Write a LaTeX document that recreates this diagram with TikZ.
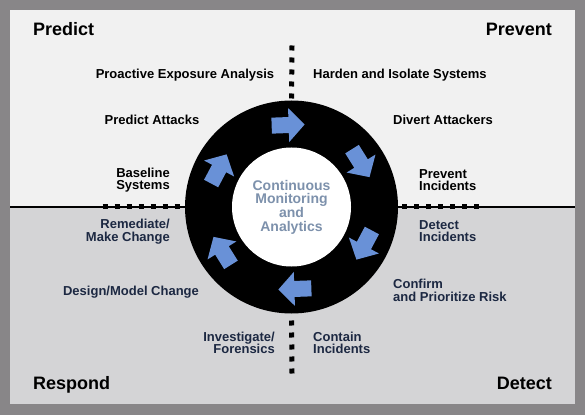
\documentclass[tikz,border=0pt]{standalone}
\usepackage{fontspec}
\setmainfont{Liberation Sans}
\usepackage{xcolor}
\usetikzlibrary{positioning}

\definecolor{framegray}{RGB}{136,134,136}
\definecolor{topfill}{RGB}{241,241,241}
\definecolor{lowfill}{RGB}{212,212,214}
\definecolor{navy}{RGB}{28,40,66}
\definecolor{arrowblue}{RGB}{105,145,215}
\definecolor{hubtext}{RGB}{125,145,172}

\begin{document}
\begin{tikzpicture}[
  x=1pt, y=1pt,
  corner/.style={font=\fontsize{18}{20}\selectfont\bfseries, inner sep=0pt},
  lbl/.style={font=\fontsize{13}{12.6}\selectfont\bfseries, inner sep=0pt},
  low/.style={text=navy},
  dotline/.style={line width=5pt, dash pattern=on 5pt off 7pt},
  turn/.style={fill=arrowblue},
]
  \fill[framegray] (0,0) rectangle (585,415);
  \fill[topfill] (10,208) rectangle (575,405);
  \fill[lowfill] (10,11) rectangle (575,208);

  \node[circle, fill=black, minimum size=213pt, inner sep=0pt] (ring) at (291.5,208) {};
  \node[circle, fill=white, minimum size=119pt, inner sep=0pt, text=hubtext,
    font=\fontsize{14}{13.6}\selectfont\bfseries, align=center] (hub) at (ring.center)
    {Continuous\\Monitoring\\and\\Analytics};

  \coordinate (leftedge) at (10,208);
  \coordinate (rightedge) at (575,208);
  \coordinate (topend) at (292,369.5);
  \coordinate (bottomend) at (292,41.5);
  \coordinate (leftend) at (102.5,208);
  \coordinate (rightend) at (478.5,208);

  \draw[line width=1.2pt] (leftedge) -- (ring.west);
  \draw[line width=1.2pt] (ring.east) -- (rightedge);
  \draw[dotline] (topend) -- (ring.north);
  \draw[dotline] (bottomend) -- (ring.south);
  \draw[dotline] (leftend) -- (ring.west);
  \draw[dotline] (rightend) -- (ring.east);

  \begin{scope}[shift={(ring.center)}]
    \foreach \a in {92,32,-28,-88,-148,152}
      \fill[turn, shift={(\a:82)}, rotate=\a-90]
        (-17,-8) -- (0,-8) -- (0,-17) -- (16,0) -- (0,17) -- (0,8) -- (-17,8) -- cycle;
  \end{scope}

  \node[corner, anchor=base west] (predict) at (33,379) {Predict};
  \node[corner, anchor=base east] (prevent) at (552,379) {Prevent};
  \node[corner, anchor=base west] (respond) at (33,26) {Respond};
  \node[corner, anchor=base east] (detect) at (552,26) {Detect};

  \node[lbl, anchor=base] (proactive) at (185,336) {Proactive Exposure Analysis};
  \node[lbl, anchor=base west] (harden) at (313,336) {Harden and Isolate Systems};
  \node[lbl, anchor=base] (attacks) at (152,290) {Predict Attacks};
  \node[lbl, anchor=base west] (divert) at (393,290) {Divert Attackers};
  \node[lbl, align=center] (baseline) at (143,235) {Baseline\\Systems};
  \node[lbl, align=left, anchor=west] (previnc) at (419,235) {Prevent\\Incidents};

  \node[lbl, low, align=right, anchor=east] (remediate) at (170,183.5) {Remediate/\\Make Change};
  \node[lbl, low, align=left, anchor=west] (detinc) at (419,184) {Detect\\Incidents};
  \node[lbl, low, anchor=base] (design) at (131,120) {Design/Model Change};
  \node[lbl, low, align=left, anchor=west] (confirm) at (393,124.5) {Confirm\\and Prioritize Risk};
  \node[lbl, low, align=right, anchor=east] (investigate) at (275,72) {Investigate/\\Forensics};
  \node[lbl, low, align=left, anchor=west] (contain) at (313,72) {Contain\\Incidents};
\end{tikzpicture}
\end{document}
